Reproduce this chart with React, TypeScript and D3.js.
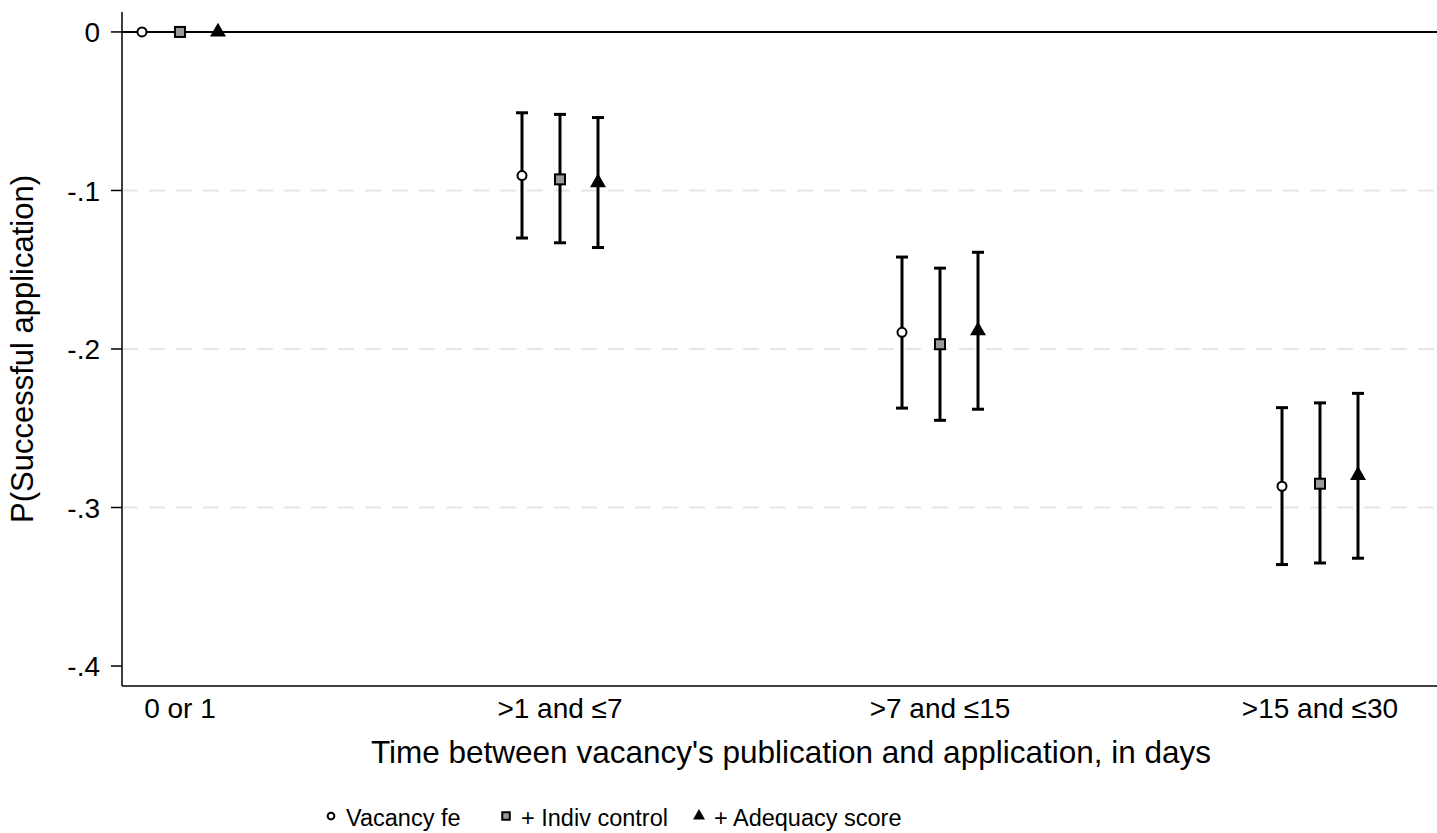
import React from 'react';
import * as d3 from 'd3';

const categories = ['0 or 1', '>1 and ≤7', '>7 and ≤15', '>15 and ≤30'];
const seriesNames = ['Vacancy fe', '+ Indiv control', '+ Adequacy score'];
const seriesShapes = ['circle', 'square', 'triangle'];
const offsets = [-0.1, 0, 0.1];

// point estimates per series (one per category)
const est = [
  [0, -0.0906, -0.1895, -0.2866],
  [0, -0.093, -0.197, -0.285],
  [0, -0.095, -0.1885, -0.2797],
];
const lo = [
  [0, -0.130, -0.2373, -0.336],
  [0, -0.133, -0.245, -0.335],
  [0, -0.136, -0.238, -0.332],
];
const hi = [
  [0, -0.051, -0.142, -0.237],
  [0, -0.052, -0.149, -0.234],
  [0, -0.054, -0.139, -0.228],
];
const yTicks = [0, -0.1, -0.2, -0.3, -0.4];
const yTickLabels = ['0', '-.1', '-.2', '-.3', '-.4'];

const W = 1437, H = 833;
const left = 122, right = 1437, top = 12, bottom = 686;
const font = '"Liberation Sans", Arial, Helvetica, sans-serif';

function Marker({ shape, x, y, s = 1 }: { shape: string; x: number; y: number; s?: number }) {
  if (shape === 'circle')
    return <circle cx={x} cy={y} r={4.5 * s} fill="white" stroke="black" strokeWidth={2} />;
  if (shape === 'square')
    return <rect x={x - 5 * s} y={y - 5 * s} width={10 * s} height={10 * s} fill="#9a9a9a" stroke="black" strokeWidth={2} />;
  const t = d3.symbol().type(d3.symbolTriangle).size(110 * s * s)();
  return <path d={t || ''} transform={`translate(${x},${y})`} fill="black" />;
}

export default function App() {
  const x = d3.scaleLinear().domain([0.8474, 4.3079]).range([left, right]);
  const y = d3.scaleLinear().domain([0.01258, -0.4126]).range([top, bottom]);

  return (
    <svg width={W} height={H} style={{ display: 'block', position: 'absolute', left: 0, top: 0 }}>
      <rect width={W} height={H} fill="white" />
      {/* gridlines */}
      {yTicks.slice(1, 4).map((t) => (
        <line key={t} x1={left} x2={right} y1={y(t)} y2={y(t)} stroke="#e6e6e6" strokeWidth={2} strokeDasharray="16 11" />
      ))}
      {/* reference line at 0 */}
      <line x1={left} x2={right} y1={y(0)} y2={y(0)} stroke="black" strokeWidth={2} />
      {/* axes */}
      <line x1={left} x2={left} y1={top} y2={bottom} stroke="black" strokeWidth={1.5} />
      <line x1={left} x2={right} y1={bottom} y2={bottom} stroke="black" strokeWidth={1.5} />
      {yTicks.map((t, i) => (
        <g key={t}>
          <line x1={left - 11} x2={left} y1={y(t)} y2={y(t)} stroke="black" strokeWidth={1.5} />
          <text x={100} y={y(t)} dy="0.36em" textAnchor="end" fontFamily={font} fontSize={28}>{yTickLabels[i]}</text>
        </g>
      ))}
      {categories.map((c, i) => (
        <text key={c} x={x(i + 1)} y={718} textAnchor="middle" fontFamily={font} fontSize={28}>{c}</text>
      ))}
      <text x={791} y={763} textAnchor="middle" fontFamily={font} fontSize={31.5}>
        Time between vacancy's publication and application, in days
      </text>
      <text transform={`translate(22,${(top + bottom) / 2}) rotate(-90)`} dy="0.36em" textAnchor="middle" fontFamily={font} fontSize={31}>
        P(Successful application)
      </text>
      {/* error bars and markers */}
      {seriesNames.map((s, si) => (
        <g key={s}>
          {categories.map((c, ci) => {
            const cx = x(ci + 1 + offsets[si]);
            if (lo[si][ci] === hi[si][ci]) return null;
            return (
              <g key={c}>
                <line x1={cx} x2={cx} y1={y(lo[si][ci])} y2={y(hi[si][ci])} stroke="black" strokeWidth={3} />
                <line x1={cx - 6} x2={cx + 6} y1={y(lo[si][ci])} y2={y(lo[si][ci])} stroke="black" strokeWidth={3} />
                <line x1={cx - 6} x2={cx + 6} y1={y(hi[si][ci])} y2={y(hi[si][ci])} stroke="black" strokeWidth={3} />
              </g>
            );
          })}
          {categories.map((c, ci) => (
            <Marker key={c} shape={seriesShapes[si]} x={x(ci + 1 + offsets[si])} y={y(est[si][ci])} />
          ))}
        </g>
      ))}
      {/* legend */}
      {seriesNames.map((s, si) => {
        const lx = [331, 506, 699][si];
        return (
          <g key={s}>
            <Marker shape={seriesShapes[si]} x={lx} y={816} s={0.75} />
            <text x={lx + 15} y={818} dy="0.36em" fontFamily={font} fontSize={23.5}>{s}</text>
          </g>
        );
      })}
    </svg>
  );
}
